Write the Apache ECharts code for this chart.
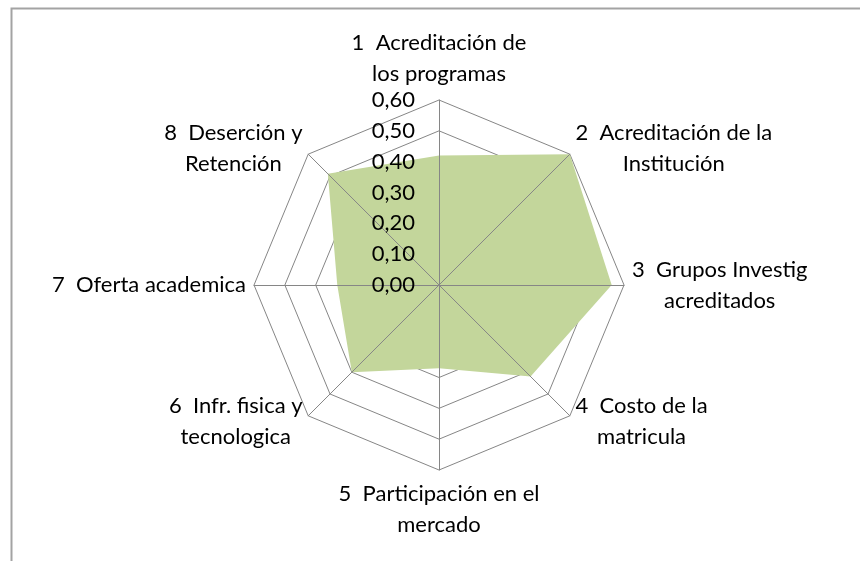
<!DOCTYPE html>
<html><head><meta charset="utf-8">
<script src="https://cdn.jsdelivr.net/npm/echarts@6/dist/echarts.min.js"></script>
<style>html,body{margin:0;padding:0;background:#fff}#c{width:860px;height:561px}</style>
</head><body><div id="c"></div>
<script>
// ---- data ----
const categories = [
  '1  Acreditación de\nlos programas',
  '2  Acreditación de la\nInstitución',
  '3  Grupos Investig\nacreditados',
  '4  Costo de la\nmatricula',
  '5  Participación en el\nmercado',
  '6  Infr. fisica y\ntecnologica',
  '7  Oferta academica',
  '8  Deserción y\nRetención'
];
const values = [0.42, 0.60, 0.56, 0.42, 0.27, 0.40, 0.33, 0.51];
const axisMin = 0, axisMax = 0.6, axisSplits = 6;

// ---- styling ----
const FONT = 'Lato';
const FS = 22;
const LH = 31;
const GRID = '#868686';
const FILL = '#c3d69b';

// ECharts places indicators counter-clockwise; reference runs clockwise.
const order = [0, 7, 6, 5, 4, 3, 2, 1];
const ind = order.map(i => ({ name: categories[i], min: axisMin, max: axisMax }));
const vals = order.map(i => values[i]);

const center = ['51.05%', 285];
const radius = 185;

const chart = echarts.init(document.getElementById('c'), null, { renderer: 'canvas' });
chart.setOption({
  backgroundColor: '#fff',
  animation: false,
  graphic: [{
    type: 'rect', left: 9, top: 6, z: 0,
    shape: { width: 900, height: 700 },
    style: { fill: 'none', stroke: '#a3a3a3', lineWidth: 2 }
  }],
  radar: [{
    // base: rings under the series
    center: center, radius: radius, startAngle: 90, shape: 'polygon',
    splitNumber: axisSplits,
    indicator: ind,
    axisName: { show: false },
    axisLine: { show: false },
    axisTick: { show: false },
    axisLabel: { show: false },
    splitArea: { show: false },
    splitLine: { lineStyle: { color: GRID, width: 1 } },
    z: 0
  }, {
    // top: spokes, names and tick labels over the series
    center: center, radius: radius, startAngle: 90, shape: 'polygon',
    splitNumber: axisSplits,
    indicator: ind.map((d, k) => k === 0 ? Object.assign({}, d, { axisLabel: { show: true } }) : d),
    nameGap: 8,
    axisName: {
      color: '#000', fontFamily: FONT, fontSize: FS, lineHeight: LH,
      formatter: function (name) {
        return name.split('\n').map(l => '{c|' + l + '}').join('\n');
      },
      rich: { c: { align: 'center', color: '#000', fontFamily: FONT, fontSize: FS, lineHeight: LH } }
    },
    axisLine: { show: true, lineStyle: { color: GRID, width: 1 } },
    axisTick: { show: false },
    axisLabel: {
      show: false, color: '#000', fontFamily: FONT, fontSize: FS, margin: 24,
      formatter: v => Number(v).toFixed(2).replace('.', ',')
    },
    splitArea: { show: false },
    splitLine: { show: false },
    z: 5
  }],
  series: [{
    type: 'radar', radarIndex: 0, z: 2,
    symbol: 'none',
    lineStyle: { width: 0, opacity: 0 },
    areaStyle: { color: FILL, opacity: 1 },
    data: [{ value: vals }]
  }]
});
</script></body></html>
